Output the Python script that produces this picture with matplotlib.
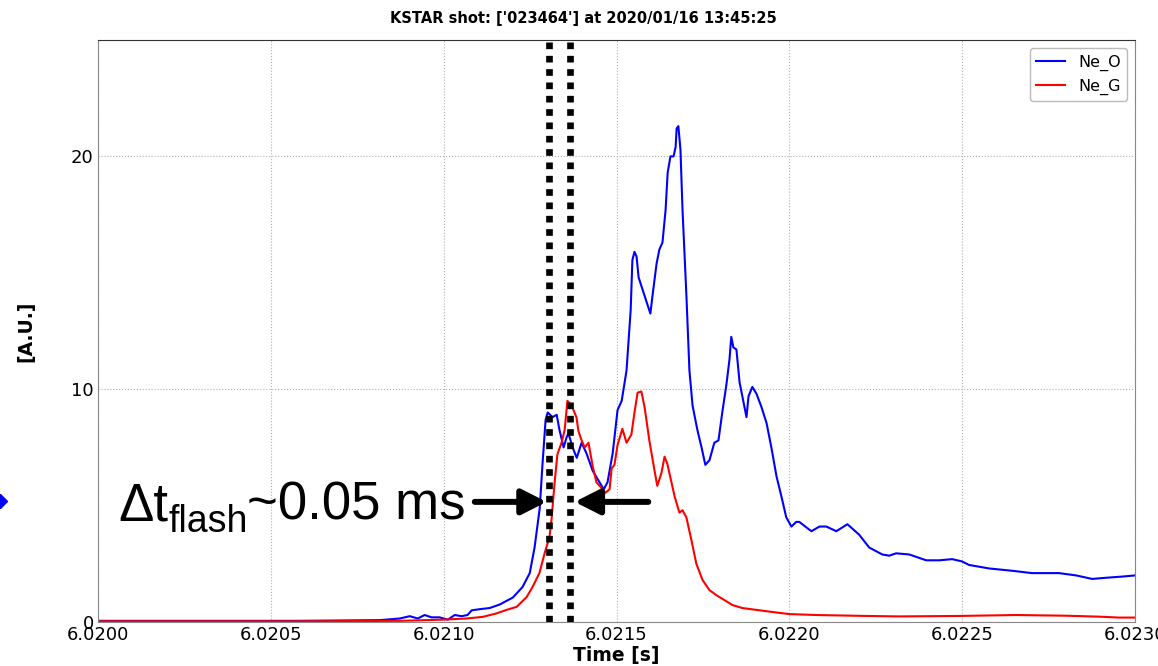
import numpy as np
import matplotlib
matplotlib.use('Agg')
import matplotlib.pyplot as plt
from matplotlib.ticker import FormatStrFormatter, MultipleLocator
from matplotlib.lines import Line2D

t0 = 6.0200  # start of the time window [s]

# Ne_O interferometer signal, time given as microseconds after t0
ne_o_us = [0, 295, 584, 815, 873, 902, 925, 945, 965, 988, 1012, 1032, 1052, 1069,
           1081, 1104, 1133, 1162, 1200, 1228, 1249, 1263, 1278, 1286, 1295, 1301,
           1315, 1327, 1335, 1347, 1356, 1361, 1373, 1385, 1399, 1413, 1431, 1451,
           1463, 1474, 1489, 1503, 1515, 1529, 1541, 1546, 1552, 1558, 1564, 1575,
           1587, 1598, 1604, 1616, 1624, 1633, 1642, 1648, 1656, 1665, 1671, 1674,
           1679, 1685, 1691, 1702, 1711, 1720, 1734, 1746, 1757, 1769, 1783, 1795,
           1806, 1818, 1827, 1832, 1838, 1847, 1856, 1864, 1876, 1882, 1893, 1905,
           1919, 1934, 1948, 1963, 1977, 1991, 2006, 2020, 2029, 2046, 2064, 2087,
           2107, 2136, 2168, 2202, 2231, 2269, 2289, 2309, 2347, 2396, 2434, 2471,
           2500, 2520, 2578, 2645, 2702, 2780, 2830, 2876, 2916, 2962, 3000]
ne_o = [0.05, 0.05, 0.05, 0.08, 0.15, 0.25, 0.15, 0.3, 0.2, 0.2, 0.1, 0.3, 0.25, 0.3,
        0.5, 0.55, 0.6, 0.75, 1.05, 1.5, 2.1, 3.2, 4.9, 6.8, 8.7, 9.0,
        8.8, 8.9, 8.25, 7.5, 7.95, 8.1, 7.5, 7.05, 7.7, 7.25, 6.5, 6.0,
        5.7, 6.0, 7.25, 9.1, 9.5, 10.8, 13.4, 15.55, 15.9, 15.7, 14.8, 14.3,
        13.75, 13.25, 14.0, 15.4, 16.0, 16.3, 17.7, 19.3, 20.0, 20.0, 20.4, 21.2,
        21.3, 20.3, 17.7, 14.1, 10.8, 9.3, 8.25, 7.5, 6.75, 6.95, 7.7, 7.8,
        9.0, 10.2, 11.3, 12.25, 11.8, 11.7, 10.3, 9.7, 8.8, 9.7, 10.1, 9.8,
        9.25, 8.55, 7.5, 6.25, 5.4, 4.5, 4.1, 4.3, 4.3, 4.1, 3.9, 4.1,
        4.1, 3.9, 4.2, 3.75, 3.2, 2.9, 2.85, 2.95, 2.9, 2.65, 2.65, 2.7,
        2.6, 2.45, 2.3, 2.2, 2.1, 2.1, 2.0, 1.85, 1.9, 1.95, 2.0]

# Ne_G signal
ne_g_us = [0, 295, 584, 873, 997, 1066, 1113, 1153, 1182, 1211, 1240, 1257, 1277,
           1292, 1306, 1312, 1321, 1329, 1341, 1350, 1358, 1370, 1384, 1390, 1399,
           1408, 1419, 1431, 1442, 1457, 1468, 1480, 1486, 1494, 1503, 1517, 1529,
           1543, 1552, 1561, 1572, 1581, 1595, 1610, 1618, 1630, 1639, 1647, 1659,
           1668, 1682, 1691, 1702, 1717, 1731, 1749, 1769, 1789, 1806, 1835, 1864,
           1905, 1951, 2000, 2078, 2223, 2318, 2491, 2656, 2801, 2896, 2954, 3000]
ne_g = [0.03, 0.03, 0.03, 0.05, 0.1, 0.15, 0.22, 0.37, 0.52, 0.65, 1.07, 1.5, 2.1,
        2.95, 3.65, 4.4, 6.0, 7.2, 7.7, 8.25, 9.5, 9.3, 8.8, 8.2, 7.8,
        7.5, 7.7, 6.7, 6.0, 5.75, 5.55, 5.7, 6.6, 6.75, 7.6, 8.3, 7.7,
        8.05, 9.0, 9.85, 9.9, 9.25, 7.8, 6.5, 5.85, 6.4, 7.1, 6.8, 6.0,
        5.4, 4.7, 4.8, 4.5, 3.5, 2.5, 1.8, 1.37, 1.15, 1.0, 0.73, 0.6,
        0.52, 0.43, 0.34, 0.3, 0.26, 0.24, 0.26, 0.3, 0.27, 0.23, 0.19, 0.19]

# flash window markers and the arrows pointing at them
flash_us = [1306, 1366]
arrow_left_us = (1090, 1298)
arrow_right_us = (1592, 1379)
arrow_level = 5.16

title = "KSTAR shot: ['023464'] at 2020/01/16 13:45:25"


def to_time(us):
    return t0 + np.asarray(us) * 1e-6


fig = plt.figure(figsize=(11.58, 6.66), dpi=100)
W, H = 1158.0, 666.0
ax = fig.add_axes([98 / W, 44 / H, (1135 - 98) / W, (622 - 40) / H])

ax.plot(to_time(ne_o_us), ne_o, color='#0000ff', lw=1.5, label='Ne_O')
ax.plot(to_time(ne_g_us), ne_g, color='#ff0000', lw=1.5, label='Ne_G')

for us in flash_us:
    ax.axvline(to_time(us), color='black', lw=4.8, linestyle=(0, (1, 1)),
               dash_capstyle='butt', zorder=5)

for tail, tip in (arrow_left_us, arrow_right_us):
    ax.annotate('', xy=(to_time(tip), arrow_level), xytext=(to_time(tail), arrow_level),
                arrowprops=dict(arrowstyle='-|>,head_length=0.75,head_width=0.38',
                                lw=4.3, color='black', mutation_scale=20,
                                shrinkA=0, shrinkB=0), zorder=6)

# Δt_flash label built from three pieces so the subscript sits right
lab_font = 'Liberation Sans'
t1 = ax.text(to_time(58), 4.38, 'Δt', fontsize=38, family=lab_font, va='baseline', zorder=6)
t2 = ax.annotate('flash', xy=(1, 0), xycoords=t1, xytext=(0, -0.5),
                 textcoords='offset points', fontsize=27, family=lab_font,
                 va='baseline', ha='left', zorder=6)
t3 = ax.annotate('~0.05 ms', xy=(1, 0), xycoords=(t2, t1), xytext=(0, 8.2),
                 textcoords='offset points', fontsize=38, family=lab_font,
                 va='baseline', ha='left', zorder=6)

ax.set_xlim(to_time(0), to_time(3000))
ax.set_ylim(0, 25)
ax.xaxis.set_major_locator(MultipleLocator(0.0005))
ax.xaxis.set_major_formatter(FormatStrFormatter('%.4f'))
ax.set_yticks([0, 10, 20])
ax.tick_params(labelsize=13, length=0, pad=3)
ax.grid(True, color='#b0b0b0', linestyle=':', lw=0.8)

for side in ('left', 'right', 'bottom'):
    ax.spines[side].set_color('#888888')
ax.spines['top'].set_color('#333333')

ax.set_xlabel('Time [s]', fontsize=13.5, fontweight='bold', labelpad=1)
ax.set_ylabel('[A.U.]', fontsize=13.5, fontweight='bold', labelpad=26)

ax.legend(loc='upper right', fontsize=11.5, framealpha=1, edgecolor='#bbbbbb',
          handlelength=1.8, borderaxespad=0.5)

fig.text(583 / W, 1 - 18 / H, title, fontsize=10.5, fontweight='bold',
         ha='center', va='center')

# small blue bullet at the left edge
fig.add_artist(Line2D([0], [1 - 501 / H], marker='D', color='#0000ff',
                      markersize=7, transform=fig.transFigure, clip_on=False))

fig.savefig('out.png', dpi=100)
